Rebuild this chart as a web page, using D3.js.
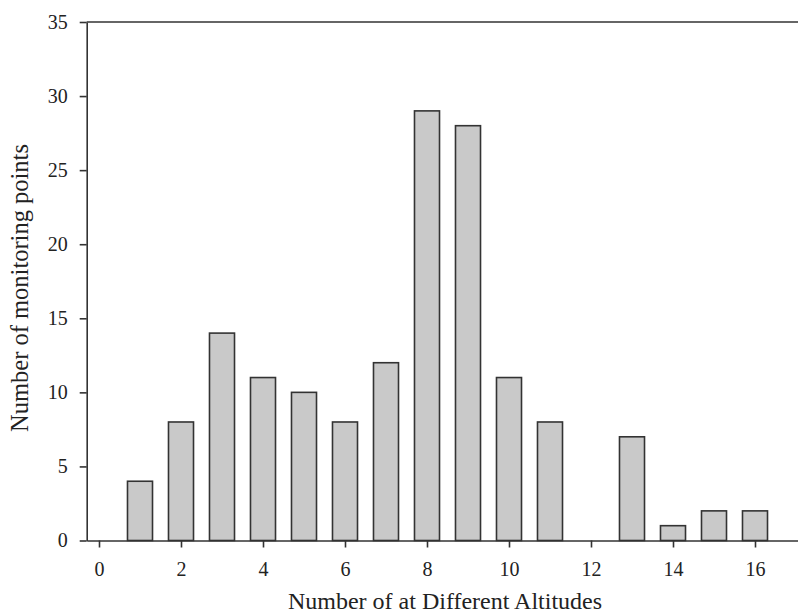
<!DOCTYPE html>
<html>
<head>
<meta charset="utf-8">
<script src="https://cdn.jsdelivr.net/npm/d3@7"></script>
<style>
  body { margin: 0; background: #fff; }
  svg text { font-family: "Liberation Serif", "Times New Roman", serif; fill: #222; }
  .axis path, .axis line { stroke: #333; stroke-width: 1.6; }
</style>
</head>
<body>
<div id="chart"></div>
<script>
// altitude counts and number of monitoring points
const altitudes = [1, 2, 3, 4, 5, 6, 7, 8, 9, 10, 11, 12, 13, 14, 15, 16];
const points = [4, 8, 14, 11, 10, 8, 12, 29, 28, 11, 8, 0, 7, 1, 2, 2];
const xTicks = [0, 2, 4, 6, 8, 10, 12, 14, 16];
const yTicks = [0, 5, 10, 15, 20, 25, 30, 35];

const width = 798, height = 613;
const svg = d3.select("#chart").append("svg")
    .attr("width", width)
    .attr("height", height);

const x = d3.scaleLinear().domain([-0.3, 17.1]).range([86.7, 800.1]);
const y = d3.scaleLinear().domain([0, 35]).range([540.5, 22]);
const barW = 0.61;

const data = altitudes.map((a, i) => ({ a: a, v: points[i] }));

// top frame line
svg.append("line")
    .attr("x1", x(-0.3)).attr("x2", width)
    .attr("y1", y(35)).attr("y2", y(35))
    .attr("stroke", "#666")
    .attr("stroke-width", 2);

svg.selectAll(".bar")
    .data(data.filter(d => d.v > 0))
    .enter().append("rect")
    .attr("class", "bar")
    .attr("x", d => x(d.a - barW / 2))
    .attr("width", d => x(d.a + barW / 2) - x(d.a - barW / 2))
    .attr("y", d => y(d.v))
    .attr("height", d => y(0) - y(d.v))
    .attr("fill", "#c9c9c9")
    .attr("stroke", "#333")
    .attr("stroke-width", 1.6);

svg.append("g")
    .attr("class", "axis")
    .attr("transform", `translate(0,${y(0)})`)
    .call(d3.axisBottom(x).tickValues(xTicks).tickSize(7).tickSizeOuter(0).tickPadding(14))
    .call(g => g.selectAll("text").style("font-size", "20px"));

svg.append("g")
    .attr("class", "axis")
    .attr("transform", `translate(${x(-0.3)},0)`)
    .call(d3.axisLeft(y).tickValues(yTicks).tickSize(7).tickSizeOuter(0).tickPadding(12))
    .call(g => g.selectAll("text").style("font-size", "20px"));

svg.append("text")
    .attr("x", 445)
    .attr("y", 609)
    .attr("text-anchor", "middle")
    .style("font-size", "24px")
    .text("Number of at Different Altitudes");

svg.append("text")
    .attr("transform", "rotate(-90)")
    .attr("x", -288)
    .attr("y", 28)
    .attr("text-anchor", "middle")
    .style("font-size", "24.5px")
    .text("Number of monitoring points");
</script>
</body>
</html>
